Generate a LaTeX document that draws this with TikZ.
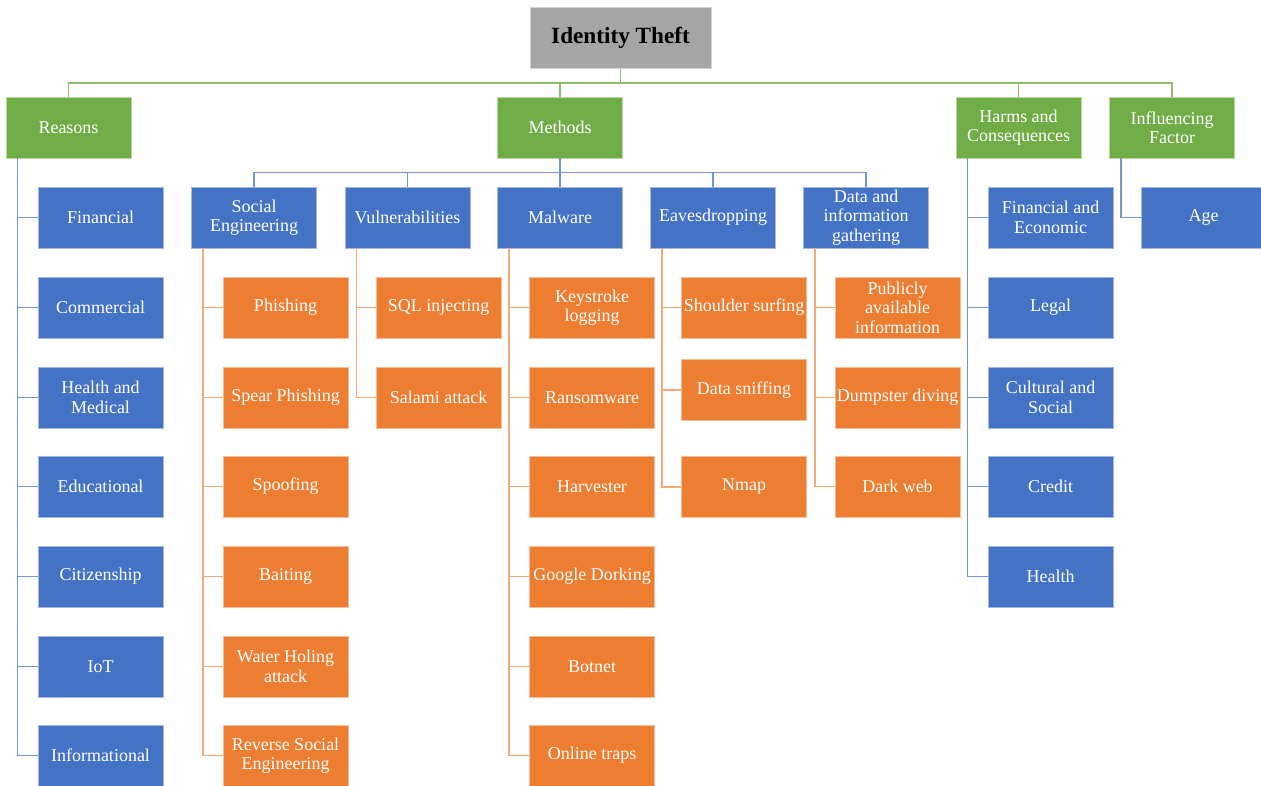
\documentclass[tikz,border=0pt]{standalone}
\usepackage{fontspec}
\setmainfont{Liberation Serif}
\definecolor{itgray}{HTML}{A5A5A5}
\definecolor{itgreen}{HTML}{70AD47}
\definecolor{itblue}{HTML}{4472C4}
\definecolor{itorange}{HTML}{ED7D31}
\tikzset{
  box/.style={rectangle, minimum width=3.125cm, minimum height=1.525cm, inner sep=1pt,
    align=center, text=white, line width=0.6pt, font=\fontsize{12.8}{13.8}\selectfont},
  rootbox/.style={box, fill=itgray, draw=itgray!50!white, text=black,
    minimum width=4.525cm, font=\bfseries\fontsize{16.5}{18}\selectfont},
  greenbox/.style={box, fill=itgreen, draw=itgreen!50!white},
  bluebox/.style={box, fill=itblue, draw=itblue!50!white},
  orangebox/.style={box, fill=itorange, draw=itorange!50!white},
  greenline/.style={draw=itgreen!80!white, line width=1.3pt},
  blueline/.style={draw=itblue!75!white, line width=1.3pt},
  orangeline/.style={draw=itorange!65!white, line width=1.3pt},
}
\begin{document}
\begin{tikzpicture}[x=0.025cm,y=-0.025cm]
\useasboundingbox (0,0) rectangle (1261,785);
%
\node[rootbox] (root) at (620.5,38) {Identity Theft};
\node[greenbox] (reasons) at (68.5,127.5) {Reasons};
\node[greenbox] (methods) at (560,127.5) {Methods};
\node[greenbox] (harms) at (1018.5,127.5) {Harms and\\Consequences};
\node[greenbox] (factor) at (1172,127.5) {Influencing\\Factor};
%
\foreach \p in {reasons,methods,harms,factor}
  \draw[greenline] (root.south) -- ++(0,14) -| (\p.north);
%
\node[bluebox] (social) at (254,217.5) {Social\\Engineering};
\node[bluebox] (vuln) at (407.5,217.5) {Vulnerabilities};
\node[bluebox] (malware) at (560,217.5) {Malware};
\node[bluebox] (eaves) at (713,217.5) {Eavesdropping};
\node[bluebox] (data) at (866,217.5) {Data and\\information\\gathering};
%
\foreach \p in {social,vuln,malware,eaves,data}
  \draw[blueline] (methods.south) -- ++(0,14) -| (\p.north);
%
% reasons
\foreach \n/\y/\t in {rfin/217.5/Financial, rcom/307.5/Commercial, rhea/397.5/{Health and\\Medical},
    redu/486.5/Educational, rcit/576.5/Citizenship, riot/666.5/IoT, rinf/755.5/Informational}{
  \node[bluebox] (\n) at (100.5,\y) {\t};
  \draw[blueline] ([xshift=0.3cm]reasons.south west) |- (\n.west);
}
% harms
\foreach \n/\y/\t in {hfin/217.5/{Financial and\\Economic}, hleg/307.5/Legal, hcul/397.5/{Cultural and\\Social},
    hcre/486.5/Credit, hhea/576.5/Health}{
  \node[bluebox] (\n) at (1050.5,\y) {\t};
  \draw[blueline] ([xshift=0.3cm]harms.south west) |- (\n.west);
}
% factor
\node[bluebox] (age) at (1203.5,217.5) {Age};
\draw[blueline] ([xshift=0.3cm]factor.south west) |- (age.west);
%
% social engineering
\foreach \n/\y/\t in {sphi/307.5/Phishing, sspe/397.5/Spear Phishing, sspo/486.5/Spoofing,
    sbai/576.5/Baiting, swat/666.5/{Water Holing\\attack}, srev/755.5/{Reverse Social\\Engineering}}{
  \node[orangebox] (\n) at (285.5,\y) {\t};
  \draw[orangeline] ([xshift=0.3cm]social.south west) |- (\n.west);
}
% vulnerabilities
\foreach \n/\y/\t in {vsql/307.5/SQL injecting, vsal/397.5/Salami attack}{
  \node[orangebox] (\n) at (438.5,\y) {\t};
  \draw[orangeline] ([xshift=0.3cm]vuln.south west) |- (\n.west);
}
% malware
\foreach \n/\y/\t in {mkey/307.5/{Keystroke\\logging}, mran/397.5/Ransomware, mhar/486.5/Harvester,
    mgoo/576.5/Google Dorking, mbot/666.5/Botnet, monl/755.5/Online traps}{
  \node[orangebox] (\n) at (592,\y) {\t};
  \draw[orangeline] ([xshift=0.3cm]malware.south west) |- (\n.west);
}
% eavesdropping
\foreach \n/\y/\t in {esho/307.5/Shoulder surfing, esni/390/Data sniffing, enma/487/Nmap}{
  \node[orangebox] (\n) at (744,\y) {\t};
  \draw[orangeline] ([xshift=0.3cm]eaves.south west) |- (\n.west);
}
% data gathering
\foreach \n/\y/\t in {dpub/307.5/{Publicly\\available\\information}, ddum/397.5/Dumpster diving, ddar/486.5/Dark web}{
  \node[orangebox] (\n) at (897.5,\y) {\t};
  \draw[orangeline] ([xshift=0.3cm]data.south west) |- (\n.west);
}
\end{tikzpicture}
\end{document}
